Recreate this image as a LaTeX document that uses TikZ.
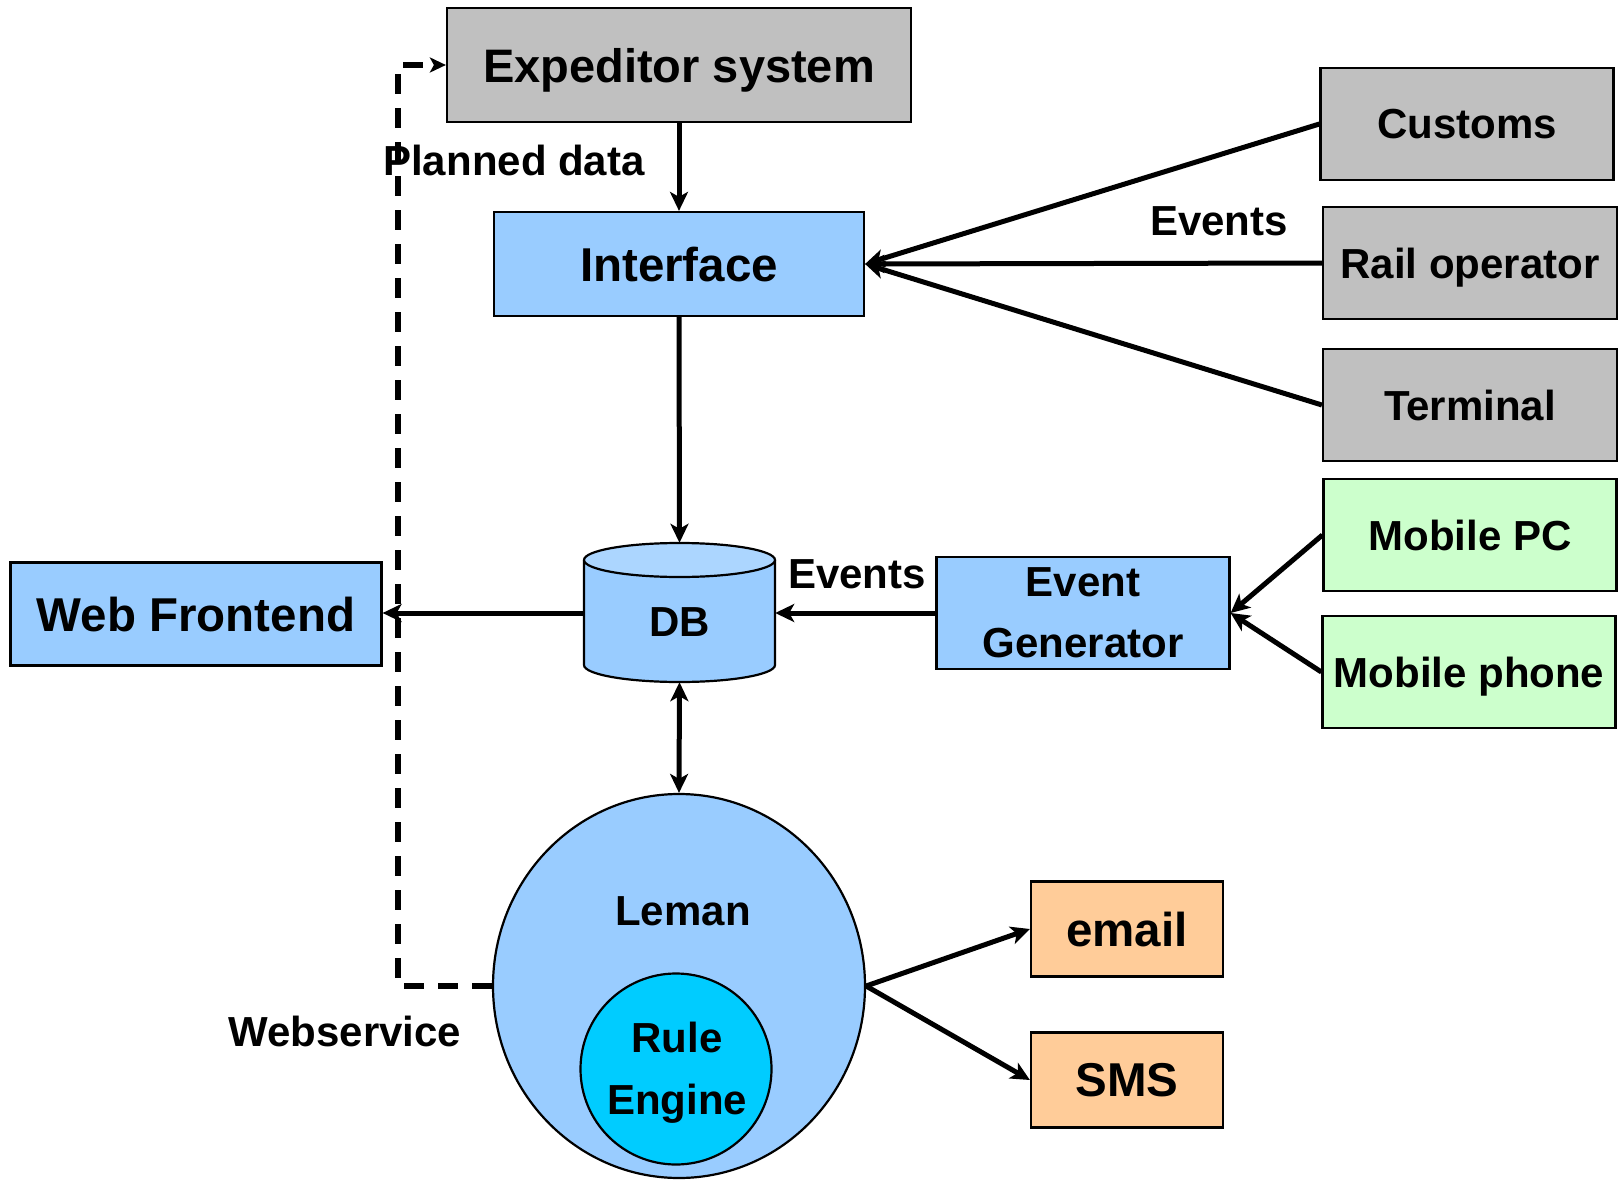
\documentclass[tikz,border=0pt]{standalone}
\usepackage{fontspec}
\setmainfont{Liberation Sans}
\usetikzlibrary{arrows.meta,shapes.geometric}
\definecolor{graybox}{HTML}{C0C0C0}
\definecolor{bluebox}{HTML}{99CCFF}
\definecolor{bluetop}{HTML}{ACD6FF}
\definecolor{greenbox}{HTML}{CCFFCC}
\definecolor{orangebox}{HTML}{FFCC99}
\definecolor{ruleblue}{HTML}{00CCFF}
\tikzset{
  box/.style={draw=black, line width=2.2pt, rectangle, inner sep=0pt, text depth=0pt, font=\bfseries\fontsize{42}{50}\selectfont},
  lbl/.style={inner sep=0pt, font=\bfseries\fontsize{42}{50}\selectfont},
  conn/.style={line width=5pt, -{Stealth[length=19pt,width=18pt,inset=5pt]}},
  dconn/.style={line width=5pt, {Stealth[length=19pt,width=18pt,inset=5pt]}-{Stealth[length=19pt,width=18pt,inset=5pt]}},
  dashconn/.style={line width=5.5pt, dash pattern=on 20pt off 14pt, -{Stealth[length=16pt,width=15pt,inset=4pt]}}
}
\begin{document}
\begin{tikzpicture}[x=1pt,y=-1pt]
\useasboundingbox (0,0) rectangle (1623,1180);
% nodes
\node[box, fill=graybox, minimum width=464pt, minimum height=114pt, font=\bfseries\fontsize{47}{55}\selectfont] (exp) at (679,65) {Expeditor system};
\node[box, fill=bluebox, minimum width=370pt, minimum height=104pt, font=\bfseries\fontsize{47.5}{55}\selectfont] (iface) at (679,264) {Interface};
\node[box, fill=graybox, minimum width=293pt, minimum height=112pt] (cust) at (1467,124) {Customs};
\node[box, fill=graybox, minimum width=294pt, minimum height=112pt] (rail) at (1470,263) {Rail operator};
\node[box, fill=graybox, minimum width=294pt, minimum height=112pt] (term) at (1470,405) {Terminal};
\node[box, fill=greenbox, minimum width=293pt, minimum height=112pt] (mpc) at (1470,535) {Mobile PC};
\node[box, fill=greenbox, minimum width=293pt, minimum height=112pt] (mph) at (1469,672) {Mobile phone};
\node[box, fill=bluebox, minimum width=293pt, minimum height=112pt, align=center, font=\bfseries\fontsize{42}{61}\selectfont] (evg) at (1083,613) {Event\\Generator};
\node[box, fill=bluebox, minimum width=371pt, minimum height=103pt, font=\bfseries\fontsize{47.5}{55}\selectfont] (web) at (196,614) {Web Frontend};
\node[box, fill=orangebox, minimum width=192pt, minimum height=95pt, font=\bfseries\fontsize{47.5}{55}\selectfont] (email) at (1127,929) {email};
\node[box, fill=orangebox, minimum width=192pt, minimum height=95pt, font=\bfseries\fontsize{47.5}{55}\selectfont] (sms) at (1127,1080) {SMS};
% DB cylinder
\fill[bluebox] (584,560) -- (584,665) arc[start angle=180,end angle=0,x radius=95.5,y radius=17] -- (775,560) -- cycle;
\draw[line width=2.2pt] (584,560) -- (584,665) arc[start angle=180,end angle=0,x radius=95.5,y radius=17] -- (775,560);
\draw[line width=2.2pt, fill=bluetop] (679.5,560) ellipse[x radius=95.5, y radius=17];
\node[lbl, minimum width=191pt, minimum height=139pt] (db) at (679.5,612.5) {};
\node[lbl] (dbt) at (679.5,622) {DB};
% Leman
\node[draw=black, line width=2.2pt, fill=bluebox, ellipse, minimum width=372pt, minimum height=384pt, inner sep=0pt] (leman) at (679,986) {};
\node[lbl] (lemant) at (683,911) {Leman};
\node[draw=black, line width=2.2pt, fill=ruleblue, circle, minimum size=191pt, inner sep=0pt] (rule) at (676,1069) {};
\node[lbl, align=center, font=\bfseries\fontsize{42}{62}\selectfont] (rulet) at (677,1073) {Rule\\Engine};
% labels
\node[lbl] (planned) at (514,160) {Planned data};
\node[lbl] (ev1) at (1219,221) {Events};
\node[lbl] (ev2) at (857,574) {Events};
\node[lbl] (wsl) at (345,1031) {Webservice};
% connectors
\draw[conn] (exp.south) -- (iface.north);
\draw[conn] (iface.south) -- (db.north);
\draw[dconn] (db.south) -- (leman.north);
\draw[conn] (db.west |- 0,613) -- (web.east |- 0,613);
\draw[conn] (evg.west) -- (db.east |- 0,613);
\draw[conn] (cust.west) -- (iface.east);
\draw[conn] (rail.west) -- (iface.east);
\draw[conn] (term.west) -- (iface.east);
\draw[conn] (mpc.west) -- (evg.east);
\draw[conn] (mph.west) -- (evg.east);
\draw[conn] (leman.east) -- (email.west);
\draw[conn] (leman.east) -- (sms.west);
\draw[dashconn] (leman.west) -- (398,986) -- (398,65) -- (exp.west);
\end{tikzpicture}
\end{document}
